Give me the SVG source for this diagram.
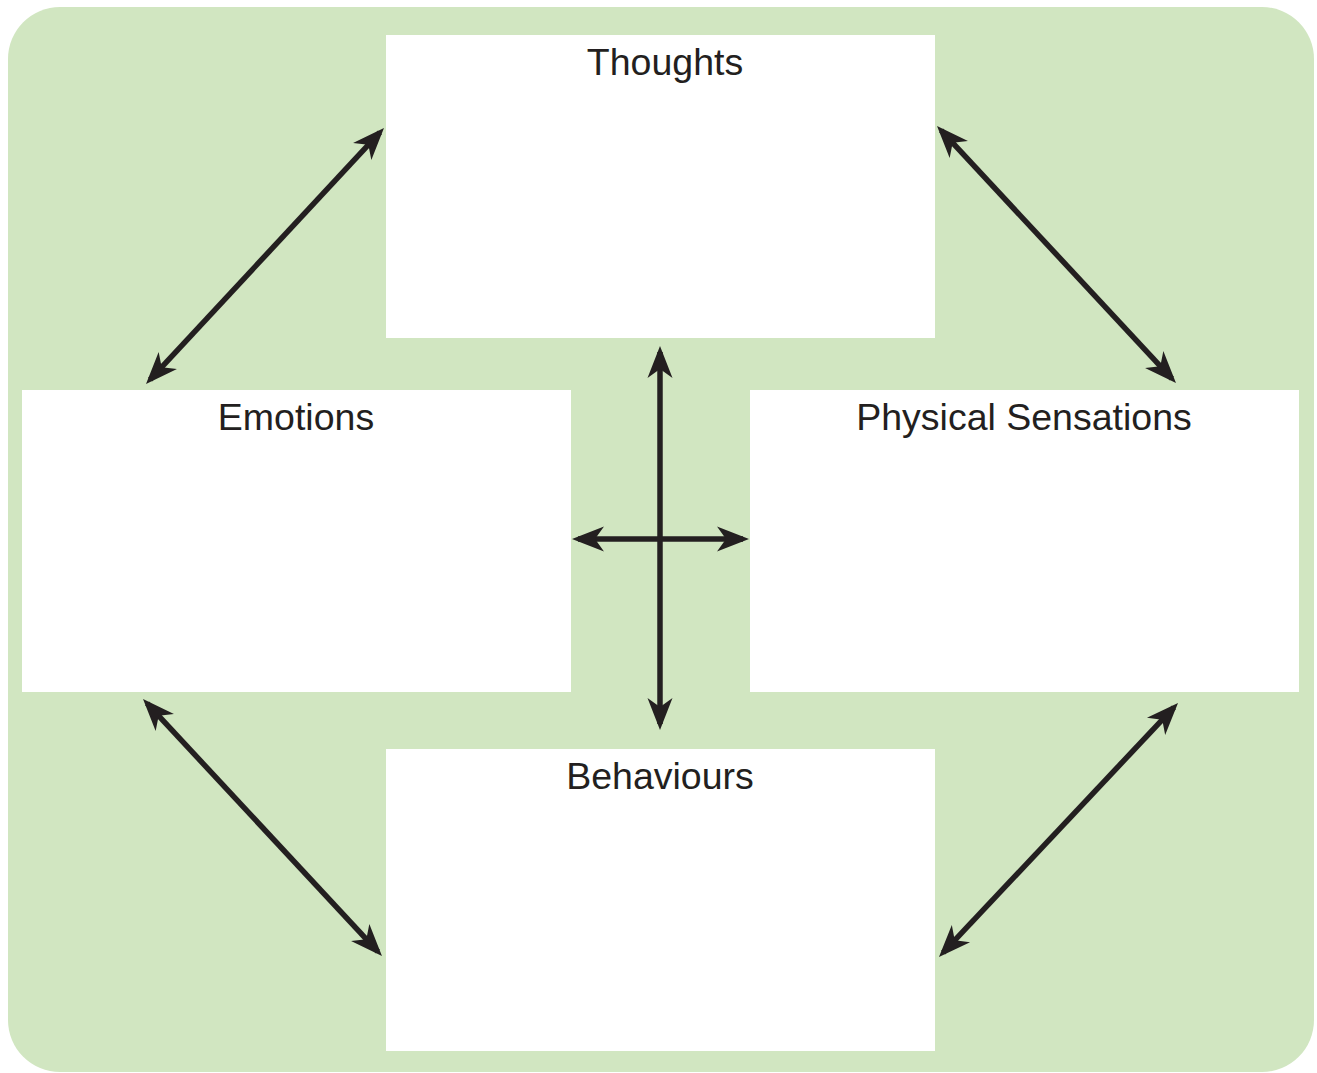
<svg xmlns="http://www.w3.org/2000/svg" width="1317" height="1073" viewBox="0 0 1317 1073">
<style>
.bg{fill:#d1e6c1}
.box{fill:#ffffff}
.lbl{font-family:"Liberation Sans",Arial,sans-serif;font-size:37.5px;fill:#231f20;text-anchor:middle}
.arr{stroke:#231f20;stroke-width:5.5;fill:none;marker-start:url(#ah);marker-end:url(#ah)}
</style>
<defs>
<marker id="ah" viewBox="-30 -14 38 28" refX="0" refY="0" markerWidth="38" markerHeight="28" markerUnits="userSpaceOnUse" orient="auto-start-reverse">
<path d="M6,0 L-26,-12.5 L-17,0 L-26,12.5 Z" fill="#231f20"/>
</marker>
</defs>
<rect class="bg" x="8" y="7" width="1306" height="1065" rx="52" ry="52"/>
<g id="thoughts"><rect class="box" x="386" y="35" width="549" height="303"/><text class="lbl" x="665" y="75">Thoughts</text></g>
<g id="emotions"><rect class="box" x="22" y="390" width="549" height="302"/><text class="lbl" x="296" y="430">Emotions</text></g>
<g id="physical"><rect class="box" x="750" y="390" width="549" height="302"/><text class="lbl" x="1024" y="430">Physical Sensations</text></g>
<g id="behaviours"><rect class="box" x="386" y="749" width="549" height="302"/><text class="lbl" x="660" y="789">Behaviours</text></g>
<g id="connectors">
<line class="arr" x1="150.1" y1="379.6" x2="379.9" y2="132.4"/>
<line class="arr" x1="941.1" y1="130.4" x2="1171.9" y2="378.6"/>
<line class="arr" x1="660" y1="352" x2="660" y2="724"/>
<line class="arr" x1="578" y1="539" x2="743" y2="539"/>
<line class="arr" x1="147.1" y1="703.4" x2="377.9" y2="951.6"/>
<line class="arr" x1="1173.9" y1="707.4" x2="943.1" y2="952.6"/>
</g>
</svg>
